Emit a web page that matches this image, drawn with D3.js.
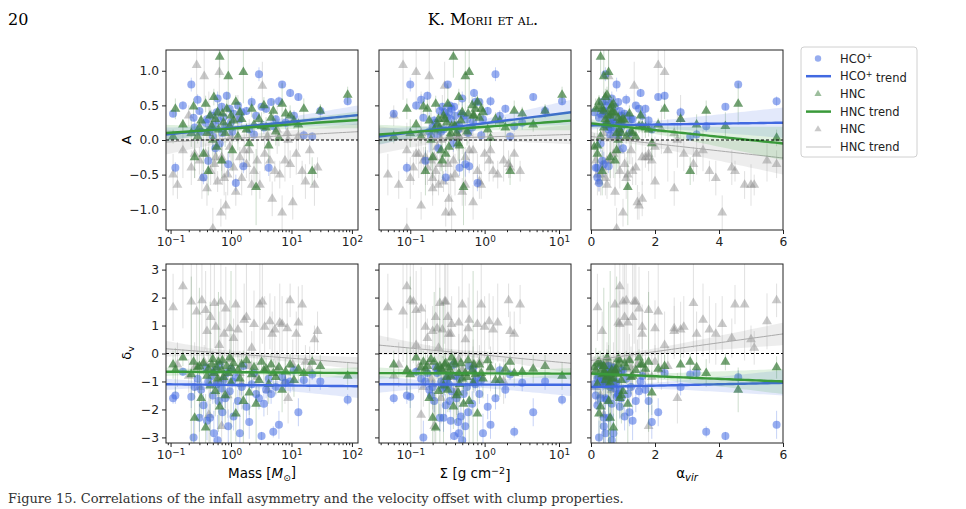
<!DOCTYPE html>
<html>
<head>
<meta charset="utf-8">
<script src="https://cdn.jsdelivr.net/npm/d3@7"></script>
<style>
body { margin: 0; background: #fff; }
svg text { font-family: "DejaVu Sans", sans-serif; }
</style>
</head>
<body>
<div class="chart"></div>
<script>
// ---- primary sample (HCO+ / HNC measured on the same clumps) ----
const mass = [0.11,0.12,0.16,0.22,0.24,0.25,0.28,0.3,0.32,0.35,
  0.38,0.4,0.42,0.45,0.48,0.5,0.52,0.55,0.58,0.6,
  0.62,0.65,0.7,0.72,0.75,0.8,0.85,0.9,0.95,1.0,
  1.05,1.1,1.2,1.3,1.4,1.5,1.6,1.8,2.0,2.2,
  2.4,2.6,2.9,3.2,3.5,3.8,4.2,4.6,5.0,5.5,
  6.2,7.0,8.0,9.5,11,13,16,22,30,85]
const sigma = [0.06,0.09,0.12,0.1,0.15,0.2,0.14,0.25,0.18,0.3,
  0.22,0.35,0.16,0.28,0.4,0.19,0.45,0.24,0.33,0.5,
  0.21,0.38,0.27,0.6,0.31,0.42,0.17,0.55,0.36,0.7,
  0.26,0.48,0.8,0.34,0.95,0.29,0.62,1.1,0.44,0.75,
  0.23,0.52,1.4,0.39,0.68,1.9,0.46,0.85,2.5,0.58,
  1.2,0.32,3.2,0.72,1.6,4.5,0.9,2.2,6.5,11]
const alphaVir = [0.3,0.15,0.5,0.8,0.25,0.6,1.1,0.4,0.9,0.2,
  0.7,1.3,0.35,0.55,1.6,0.85,0.45,1.0,0.1,0.65,
  1.8,0.3,0.75,1.2,0.5,0.95,2.3,0.4,1.5,0.6,
  0.8,1.05,0.25,1.4,0.7,2.8,0.55,0.9,1.9,0.35,
  3.3,1.15,0.45,4.2,0.65,1.7,0.2,0.85,3.6,1.25,
  5.8,4.6,0.75,1.55,0.95,2.1,0.6,3.1,0.4,0.5]

const A_hco = [0.38,-0.40,0.50,0.80,0.32,0.18,0.58,0.42,0.12,-0.54,
  0.25,0.30,-0.30,0.15,0.35,0.05,0.22,-0.12,0.40,0.60,
  0.28,-0.05,0.48,0.10,0.33,0.20,0.64,-0.35,0.45,0.26,
  0.12,0.38,-0.62,0.50,0.30,0.40,-0.38,0.42,0.15,0.55,
  0.08,0.35,0.95,0.48,0.18,0.45,-0.40,0.55,0.20,0.30,
  0.56,0.80,0.25,0.68,0.35,0.62,0.07,0.05,0.42,0.56]
const eA_hco = [0.05,0.08,0.06,0.10,0.05,0.12,0.08,0.05,0.30,0.10,
  0.07,0.06,0.15,0.05,0.09,0.20,0.06,0.08,0.05,0.10,
  0.07,0.12,0.06,0.05,0.08,0.10,0.06,0.18,0.05,0.07,
  0.09,0.06,0.12,0.05,0.08,0.07,0.10,0.06,0.05,0.08,
  0.07,0.06,0.10,0.05,0.09,0.06,0.12,0.05,0.08,0.06,
  0.07,0.05,0.10,0.06,0.08,0.05,0.07,0.06,0.05,0.06]
const dv_hco = [-1.60,-1.50,-0.65,-1.55,-3.00,-1.20,-0.90,-2.30,-1.30,-1.85,
  -0.50,-2.40,-1.00,-2.30,-0.80,-1.50,-2.85,-0.60,-1.10,-3.10,
  -1.70,-0.40,-1.25,-2.10,-0.95,-1.60,-0.70,-2.60,-1.35,-0.55,
  -1.00,-2.25,-0.85,-1.70,-2.85,-1.20,-0.45,-1.90,-2.45,-1.10,
  -0.70,-1.45,-1.60,-2.95,-1.80,-1.30,-0.90,-1.45,-2.80,-1.20,
  -2.55,-0.85,-1.05,-1.00,-0.60,-2.10,-0.95,-0.75,-1.00,-1.65]
const edv_hco = [0.20,0.30,0.15,0.40,0.60,0.25,0.20,0.50,0.30,0.40,
  0.15,0.70,0.20,0.50,0.25,0.30,0.80,0.20,0.35,0.90,
  0.40,0.15,0.30,0.50,0.20,0.35,0.20,0.60,0.30,0.20,
  0.25,0.50,0.20,0.40,0.70,0.30,0.15,0.45,0.60,0.25,
  0.20,0.35,0.40,0.15,0.45,0.30,0.25,0.35,0.20,0.30,
  0.50,0.25,0.30,0.40,0.20,0.50,0.25,0.20,0.30,0.20]

const A_hnc = [0.05,0.45,0.22,0.10,0.48,-0.25,0.05,0.18,0.28,-0.20,
  0.52,0.10,-0.45,0.35,0.20,0.00,0.62,0.30,-0.10,0.40,
  0.15,1.20,-0.30,0.38,0.25,0.10,0.45,0.92,0.20,0.35,
  -0.15,0.28,0.55,0.05,0.40,0.30,0.98,0.15,-0.05,0.45,
  0.22,-0.68,0.30,0.20,0.50,0.18,-0.08,0.32,0.42,0.12,
  0.03,0.52,0.38,0.35,0.28,0.22,0.45,-0.45,0.42,0.65]
const eA_hnc = [0.10,0.15,0.08,0.20,0.12,0.30,0.10,0.15,0.08,0.25,
  0.12,0.10,0.35,0.15,0.10,0.40,0.12,0.10,0.20,0.15,
  0.10,0.30,0.25,0.12,0.10,0.20,0.15,0.50,0.10,0.12,
  0.30,0.15,0.10,0.20,0.12,0.10,0.45,0.10,0.25,0.12,
  0.15,0.55,0.10,0.20,0.12,0.15,0.25,0.10,0.15,0.20,
  0.12,0.30,0.10,0.15,0.12,0.10,0.15,0.20,0.10,0.12]
const dv_hnc = [-0.40,-0.60,-0.15,-0.75,-0.30,-2.30,-0.50,-0.45,-1.60,-0.35,
  -2.65,-0.80,-0.55,-1.15,-0.40,-0.20,-0.70,-1.35,-0.50,-0.90,
  -0.30,-1.90,-0.60,-0.25,-0.85,-1.50,-0.45,-0.70,-0.15,-1.05,
  -0.55,-0.35,-2.15,-0.60,-0.90,-0.40,-1.70,-0.25,-1.40,-0.75,
  -0.50,-1.80,-0.95,-0.30,-0.60,-0.55,-1.10,-0.40,-0.70,-0.85,
  -0.50,-1.30,-0.65,-0.40,-0.95,-0.55,-0.70,-0.30,-0.45,-0.80]
const edv_hnc = [0.50,0.80,0.30,3.50,0.40,1.00,0.60,2.80,0.70,0.40,
  1.20,0.50,0.60,3.00,0.40,0.30,0.50,0.90,0.40,0.60,
  2.50,0.80,0.50,0.30,0.60,1.00,0.40,0.50,0.30,4.00,
  0.50,0.40,1.00,0.60,0.70,0.40,1.80,0.30,0.80,0.50,
  0.40,1.50,0.60,0.30,0.50,0.40,0.70,0.40,0.50,0.60,
  0.40,0.80,0.50,0.40,0.60,0.50,0.40,0.30,0.40,0.50]

// ---- grey comparison sample (HNC) ----
const mass2 = [0.11,0.13,0.16,0.20,0.22,0.25,0.27,0.30,0.33,0.36,
  0.38,0.40,0.43,0.46,0.50,0.53,0.56,0.60,0.64,0.68,
  0.72,0.77,0.82,0.88,0.95,1.00,1.10,1.20,1.30,1.40,
  1.50,1.65,1.80,2.00,2.20,2.40,2.70,3.00,3.30,3.60,
  4.00,4.40,4.80,5.30,5.80,6.40,7.00,7.80,8.50,9.50,
  10.5,12.0,13.0,15.0,17.0,20.0,24.0,27.0,8.80,0.70]
const sigma2 = [0.05,0.07,0.09,0.06,0.11,0.13,0.08,0.15,0.10,0.18,
  0.12,0.20,0.14,0.22,0.09,0.25,0.16,0.28,0.12,0.30,
  0.19,0.35,0.14,0.40,0.23,0.45,0.17,0.50,0.27,0.55,
  0.20,0.62,0.32,0.70,0.24,0.80,0.38,0.90,0.29,1.00,
  0.42,1.15,0.33,1.30,0.50,1.50,0.36,1.80,0.60,2.10,
  0.70,2.50,0.45,3.00,0.85,1.20,0.55,2.20,0.26,0.21]
const alphaVir2 = [0.20,0.50,0.90,0.35,1.40,0.70,2.10,0.15,1.10,0.55,
  1.80,2.60,0.40,1.30,0.80,3.20,1.60,0.25,2.30,1.00,
  0.60,3.90,1.50,0.30,2.00,1.20,4.40,0.75,2.80,1.70,
  0.45,3.50,1.05,2.40,5.10,0.90,1.90,4.80,1.35,2.90,
  0.65,5.50,1.60,3.70,2.20,1.15,4.10,0.50,2.60,5.80,
  1.45,3.30,0.85,4.50,2.00,1.25,5.00,0.35,2.70,1.80]
const A_g = [-0.50,-0.65,-0.15,0.35,-0.40,-0.20,1.08,-0.30,-0.55,0.92,
  -0.20,-0.70,0.10,-0.45,-1.28,-0.35,-0.25,-0.60,0.98,-1.05,
  -0.30,-0.55,-0.95,-0.50,-0.10,0.05,-0.40,-0.75,0.30,-0.25,
  -0.55,-0.15,-0.35,-0.15,-0.65,-0.45,-0.30,-0.65,0.78,-0.20,
  0.05,-0.30,-0.85,-0.45,0.15,-0.50,-1.05,-0.30,0.10,-0.35,
  -0.90,-0.20,0.05,-0.45,-0.60,-0.15,-0.65,-0.40,0.00,-0.25]
const eA_g = [0.30,0.20,0.40,0.15,0.25,0.35,0.50,0.20,0.30,0.45,
  0.15,0.25,0.60,0.20,0.30,0.25,0.40,0.15,0.55,0.20,
  0.35,0.25,0.20,0.30,0.15,0.40,0.25,0.20,0.35,0.15,
  0.25,0.30,0.20,0.45,0.15,0.25,0.30,0.20,0.35,0.25,
  0.20,0.30,0.25,0.15,0.35,0.20,0.25,0.30,0.15,0.20,
  0.25,0.30,0.20,0.15,0.25,0.20,0.30,0.15,0.40,0.20]
const dv_g = [1.65,-0.40,2.40,-0.80,1.85,-0.50,1.50,-1.20,1.90,-0.30,
  1.55,0.80,-2.20,1.30,-0.65,1.80,0.95,-1.00,0.30,1.85,
  -0.90,0.70,1.60,-1.50,0.90,-0.20,0.55,1.75,0.85,-0.70,
  -1.10,1.20,1.30,-0.45,0.20,1.05,-0.85,1.75,1.85,0.95,
  -1.30,1.15,0.70,0.85,-0.60,1.10,1.05,-1.00,0.90,1.90,
  -0.40,0.70,1.10,1.75,-0.30,-0.55,0.50,0.80,-1.60,-2.60]
const edv_g = [1.20,0.80,1.50,0.60,2.20,0.90,1.80,0.70,2.50,0.60,
  1.40,0.90,1.00,3.00,0.70,1.60,0.80,0.90,1.20,2.00,
  0.70,1.10,1.50,0.80,1.00,0.90,0.70,1.90,1.00,0.80,
  0.90,1.30,2.40,0.70,0.60,1.20,0.80,2.00,1.50,1.10,
  0.90,1.00,0.80,1.20,0.70,1.40,1.00,0.80,1.10,0.60,
  0.90,0.80,1.30,0.70,0.60,0.80,0.50,0.70,0.90,1.00]

// trend fits per panel: [y at left edge, y at right edge, CI half-width left, mid, right]
// order: HCO+, HNC, grey HNC
const trendMassA = [[0.08, 0.36, 0.10, 0.04, 0.14], [0.10, 0.29, 0.12, 0.04, 0.12], [-0.03, 0.12, 0.18, 0.05, 0.12]]
const trendSigmaA = [[0.05, 0.40, 0.12, 0.04, 0.18], [0.08, 0.28, 0.14, 0.04, 0.14], [0.00, 0.08, 0.20, 0.05, 0.14]]
const trendAlphaA = [[0.21, 0.25, 0.06, 0.04, 0.22], [0.24, -0.05, 0.06, 0.04, 0.24], [0.05, -0.26, 0.07, 0.04, 0.24]]
const trendMassDv = [[-1.10, -1.17, 0.20, 0.08, 0.42], [-0.65, -0.70, 0.15, 0.06, 0.20], [0.17, -0.35, 0.28, 0.10, 0.22]]
const trendSigmaDv = [[-1.10, -1.12, 0.30, 0.08, 0.40], [-0.70, -0.72, 0.20, 0.06, 0.20], [0.30, -0.35, 0.35, 0.10, 0.35]]
const trendAlphaDv = [[-1.20, -1.05, 0.12, 0.08, 0.45], [-0.72, -1.00, 0.10, 0.06, 0.45], [-0.25, 0.70, 0.12, 0.10, 0.40]]
const trendCenter = [1.2, 0.4, 1.2]

const tickA = [-1, -0.5, 0, 0.5, 1]
const tickDv = [-3, -2, -1, 0, 1, 2, 3]
const tickLog = [0.1, 1, 10, 100]
const tickAlpha = [0, 2, 4, 6]
const legendLabels = ['HCO+', 'HCO+ trend', 'HNC', 'HNC trend', 'HNC', 'HNC trend']

const width = 966, height = 509

const svg = d3.select('.chart').append('svg')
    .attr('width', width)
    .attr('height', height)

const blue = '#4169e1', green = '#3b7d3b', grey = '#888'

const xMass = d3.scaleLog().domain([0.084, 126]).range([166, 358])
const xSigma = d3.scaleLog().domain([0.038, 14.5]).range([379, 571])
const xAlpha = d3.scaleLinear().domain([0, 6]).range([591, 783])
const yA = d3.scaleLinear().domain([-1.3, 1.3]).range([230, 50])
const yDv = d3.scaleLinear().domain([-3.2, 3.2]).range([443, 264])

const cols = [
    { x: xMass, xv: mass, xg: mass2, log: true },
    { x: xSigma, xv: sigma, xg: sigma2, log: true },
    { x: xAlpha, xv: alphaVir, xg: alphaVir2, log: false }
]
const rows = [
    { y: yA, ticks: tickA, fmt: d3.format('.1f'), hco: A_hco, ehco: eA_hco, hnc: A_hnc, ehnc: eA_hnc, g: A_g, eg: eA_g, trends: [trendMassA, trendSigmaA, trendAlphaA] },
    { y: yDv, ticks: tickDv, fmt: d3.format('d'), hco: dv_hco, ehco: edv_hco, hnc: dv_hnc, ehnc: edv_hnc, g: dv_g, eg: edv_g, trends: [trendMassDv, trendSigmaDv, trendAlphaDv] }
]

const tri = d3.symbol().type(d3.symbolTriangle).size(42)()
const triSmall = d3.symbol().type(d3.symbolTriangle).size(22)()
const supMinus = n => (n < 0 ? '\u2212' + (-n) : '' + n)

function band(g, x, y, t, xc, color, lw, fillOp, lineColor) {
    const r = x.range(), d = x.domain()
    const isLog = !!x.base
    const toU = v => (isLog ? Math.log10(v / d[0]) / Math.log10(d[1] / d[0]) : (v - d[0]) / (d[1] - d[0]))
    const uc = toU(xc)
    const pts = d3.range(0, 1.0001, 0.02).map(u => {
        const yy = t[0] + (t[1] - t[0]) * u
        const we = u < uc ? t[2] : t[4]
        const ue = u < uc ? 0 : 1
        const k = (u - uc) / (ue - uc)
        const w = Math.sqrt(t[3] * t[3] + (we * we - t[3] * t[3]) * k * k)
        return { px: r[0] + u * (r[1] - r[0]), yy, w }
    })
    g.append('path')
        .attr('d', d3.area().x(p => p.px).y0(p => y(p.yy - p.w)).y1(p => y(p.yy + p.w))(pts))
        .attr('fill', color).attr('fill-opacity', fillOp)
    g.append('path')
        .attr('d', d3.line().x(p => p.px).y(p => y(p.yy))(pts))
        .attr('fill', 'none').attr('stroke', lineColor).attr('stroke-width', lw)
}

rows.forEach((row, ri) => {
    cols.forEach((col, ci) => {
        const x = col.x, y = row.y
        const [x0, x1] = x.range(), [y1, y0] = y.range()
        const id = 'clip' + ri + ci
        svg.append('clipPath').attr('id', id)
            .append('rect').attr('x', x0).attr('y', y0).attr('width', x1 - x0).attr('height', y1 - y0)
        const g = svg.append('g').attr('clip-path', 'url(#' + id + ')')

        // grey sample
        g.append('g').selectAll('line').data(col.xg).enter().append('line')
            .attr('x1', d => x(d)).attr('x2', d => x(d))
            .attr('y1', (d, i) => y(row.g[i] - row.eg[i])).attr('y2', (d, i) => y(row.g[i] + row.eg[i]))
            .attr('stroke', '#bbb').attr('stroke-opacity', 0.45).attr('stroke-width', 1)
        g.append('g').selectAll('path').data(col.xg).enter().append('path')
            .attr('d', tri)
            .attr('transform', (d, i) => 'translate(' + x(d) + ',' + y(row.g[i]) + ')')
            .attr('fill', grey).attr('fill-opacity', 0.45)

        // HCO+
        g.append('g').selectAll('line').data(col.xv).enter().append('line')
            .attr('x1', d => x(d)).attr('x2', d => x(d))
            .attr('y1', (d, i) => y(row.hco[i] - row.ehco[i])).attr('y2', (d, i) => y(row.hco[i] + row.ehco[i]))
            .attr('stroke', blue).attr('stroke-opacity', 0.3).attr('stroke-width', 1)
        g.append('g').selectAll('circle').data(col.xv).enter().append('circle')
            .attr('cx', d => x(d)).attr('cy', (d, i) => y(row.hco[i]))
            .attr('r', 4)
            .attr('fill', blue).attr('fill-opacity', 0.55)

        // HNC
        g.append('g').selectAll('line').data(col.xv).enter().append('line')
            .attr('x1', d => x(d)).attr('x2', d => x(d))
            .attr('y1', (d, i) => y(row.hnc[i] - row.ehnc[i])).attr('y2', (d, i) => y(row.hnc[i] + row.ehnc[i]))
            .attr('stroke', green).attr('stroke-opacity', 0.25).attr('stroke-width', 1)
        g.append('g').selectAll('path').data(col.xv).enter().append('path')
            .attr('d', tri)
            .attr('transform', (d, i) => 'translate(' + x(d) + ',' + y(row.hnc[i]) + ')')
            .attr('fill', green).attr('fill-opacity', 0.72)

        // trends
        const tr = row.trends[ci]
        band(g, x, y, tr[2], trendCenter[ci], '#999', 1, 0.18, '#aaa')
        band(g, x, y, tr[0], trendCenter[ci], blue, 2.4, 0.15, blue)
        band(g, x, y, tr[1], trendCenter[ci], '#2ca02c', 2.4, 0.15, '#3a9a3a')

        // zero line
        g.append('line')
            .attr('x1', x0).attr('x2', x1).attr('y1', y(0)).attr('y2', y(0))
            .attr('stroke', '#000').attr('stroke-width', 1).attr('stroke-dasharray', '3,2')

        // y axis
        const ya = svg.append('g').attr('transform', 'translate(' + x0 + ',0)')
            .call(d3.axisLeft(y).tickValues(row.ticks).tickSize(4).tickPadding(3)
                .tickFormat(ci === 0 ? row.fmt : ''))
        ya.select('.domain').remove()

        // x axis
        const xa = svg.append('g').attr('transform', 'translate(0,' + y1 + ')')
        if (col.log) {
            const dom = x.domain()
            const major = tickLog.filter(v => v >= dom[0] && v <= dom[1])
            const minor = []
            for (let e = -2; e <= 2; e++) for (let m = 2; m <= 9; m++) {
                const v = m * Math.pow(10, e)
                if (v >= dom[0] && v <= dom[1]) minor.push(v)
            }
            xa.append('g').call(d3.axisBottom(x).tickValues(minor).tickSize(2.2).tickFormat(''))
                .select('.domain').remove()
            xa.append('g').call(d3.axisBottom(x).tickValues(major).tickSize(4).tickPadding(3).tickFormat(''))
                .call(a => a.select('.domain').remove())
                .selectAll('.tick text').each(function (d) {
                    const t = d3.select(this)
                    t.append('tspan').text('10')
                    t.append('tspan').attr('dy', '-0.45em').attr('font-size', '0.72em')
                        .text(supMinus(Math.round(Math.log10(d))))
                })
        } else {
            xa.call(d3.axisBottom(x).tickValues(tickAlpha).tickSize(4).tickPadding(3).tickFormat(d3.format('d')))
                .select('.domain').remove()
        }

        svg.append('rect')
            .attr('x', x0).attr('y', y0).attr('width', x1 - x0).attr('height', y1 - y0)
            .attr('fill', 'none').attr('stroke', '#222').attr('stroke-width', 1)
    })
})

svg.selectAll('.tick text').attr('font-size', 12.3).attr('fill', '#222')
svg.selectAll('.tick line').attr('stroke', '#222')

// axis labels
svg.append('text').attr('transform', 'translate(131,140) rotate(-90)')
    .attr('text-anchor', 'middle').attr('font-size', 13).text('A')
const dvLabel = svg.append('text').attr('transform', 'translate(131,353) rotate(-90)')
    .attr('text-anchor', 'middle').attr('font-size', 13)
dvLabel.append('tspan').text('\u03b4')
dvLabel.append('tspan').attr('dy', '0.3em').attr('font-size', 9.5).text('v')

const massLabel = svg.append('text').attr('x', 262).attr('y', 478).attr('text-anchor', 'middle').attr('font-size', 13.5)
massLabel.append('tspan').text('Mass [')
massLabel.append('tspan').attr('font-style', 'italic').text('M')
massLabel.append('tspan').attr('dy', '0.3em').attr('font-size', 9).text('\u2299')
massLabel.append('tspan').attr('dy', '-0.3em').text(']')

const sigLabel = svg.append('text').attr('x', 475).attr('y', 478).attr('text-anchor', 'middle').attr('font-size', 13.5)
sigLabel.append('tspan').text('\u03a3 [g cm')
sigLabel.append('tspan').attr('dy', '-0.45em').attr('font-size', 9.5).text('\u22122')
sigLabel.append('tspan').attr('dy', '0.45em').text(']')

const alphaLabel = svg.append('text').attr('x', 687).attr('y', 478).attr('text-anchor', 'middle').attr('font-size', 13.5)
alphaLabel.append('tspan').text('\u03b1')
alphaLabel.append('tspan').attr('dy', '0.3em').attr('font-size', 10).attr('font-style', 'italic').text('vir')

// legend
const legend = svg.append('g').attr('class', 'legend')
legend.append('rect')
    .attr('x', 801).attr('y', 47).attr('width', 116).attr('height', 110).attr('rx', 3)
    .attr('fill', '#fff').attr('stroke', '#d0d0d0')
legendLabels.forEach((lab, i) => {
    const ly = 58.5 + i * 17.7
    if (i === 0) legend.append('circle').attr('cx', 818).attr('cy', ly).attr('r', 3.2).attr('fill', blue).attr('fill-opacity', 0.55)
    if (i === 2) legend.append('path').attr('d', triSmall).attr('transform', 'translate(818,' + ly + ')').attr('fill', green).attr('fill-opacity', 0.5)
    if (i === 4) legend.append('path').attr('d', triSmall).attr('transform', 'translate(818,' + ly + ')').attr('fill', grey).attr('fill-opacity', 0.45)
    if (i === 1 || i === 3 || i === 5) {
        legend.append('line').attr('x1', 806).attr('x2', 831).attr('y1', ly).attr('y2', ly)
            .attr('stroke', i === 1 ? blue : i === 3 ? '#3a9a3a' : '#ccc')
            .attr('stroke-width', i === 5 ? 1.2 : 2.5)
    }
    const t = legend.append('text').attr('x', 840).attr('y', ly + 4).attr('font-size', 11.5).attr('fill', '#222')
    if (lab.startsWith('HCO+')) {
        t.append('tspan').text('HCO')
        t.append('tspan').attr('dy', '-0.45em').attr('font-size', 8).text('+')
        if (lab.length > 4) t.append('tspan').attr('dy', '0.45em').text('\u00a0trend')
    } else {
        t.text(lab)
    }
})

// page header and the first line of the caption
svg.append('text').attr('x', 8).attr('y', 25)
    .style('font-family', '"DejaVu Serif", serif').attr('font-size', 16).text('20')
svg.append('text').attr('x', 483).attr('y', 25).attr('text-anchor', 'middle')
    .style('font-family', '"DejaVu Serif", serif').style('font-variant', 'small-caps')
    .attr('font-size', 16).text('K. Morii et al.')
svg.append('text').attr('x', 8).attr('y', 503)
    .style('font-family', '"DejaVu Serif", serif').attr('font-size', 13).attr('fill', '#333')
    .text('Figure 15. Correlations of the infall asymmetry and the velocity offset with clump properties.')
</script>
</body>
</html>
